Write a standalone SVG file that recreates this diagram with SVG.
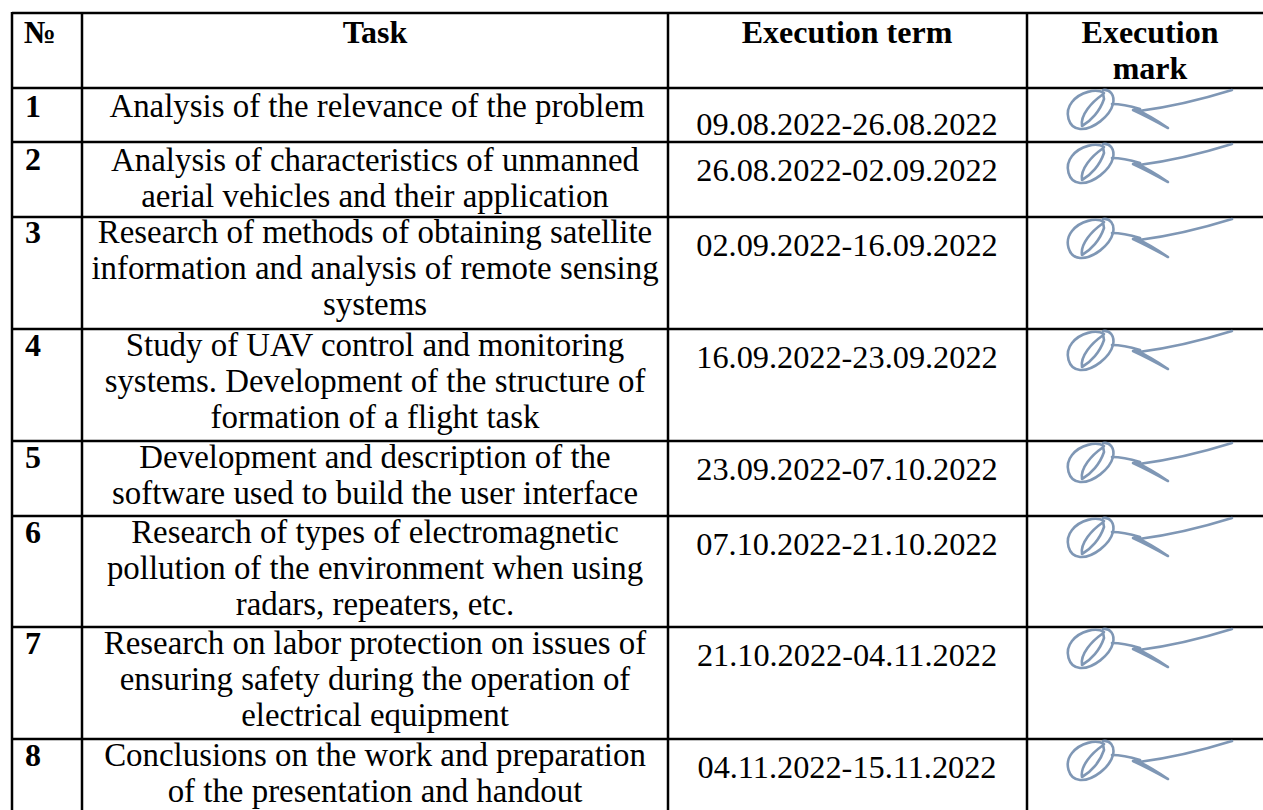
<svg xmlns="http://www.w3.org/2000/svg" width="1263" height="810" viewBox="0 0 1263 810" font-family="'Liberation Serif', 'Times New Roman', Tinos, 'DejaVu Serif', serif">
<style>
text{font-family:'Liberation Serif','Times New Roman',Tinos,'DejaVu Serif',serif;font-size:32px;fill:#000}
.b{font-weight:bold}
.c{text-anchor:middle}
.t{font-size:32.9px}
.d{font-size:32.3px}
.grid line{stroke:#000;stroke-width:2.5}
.sig path{fill:none;stroke:#7f97b5;stroke-width:2.6;stroke-linecap:round;stroke-linejoin:round}
</style>
<defs>
<g id="sign" class="sig">
<path d="M1104,93 C1096,88 1080,92 1072,102 C1064,112 1068,128 1080,129 C1093,130 1110,116 1113,104 C1115,95 1110,89 1103,90"/>
<path d="M1102,95 C1092,102 1080,115 1082,126 C1091,121 1100,111 1104,99 L1103,93"/>
<path d="M1112,104 C1121,104 1130,106 1140,109 L1133,110 C1146,116 1159,123 1168,128 C1156,120 1146,114 1139,111 C1170,107 1200,100 1232,90"/>
</g>
</defs>
<rect width="1263" height="810" fill="#fff"/>
<g id="grid" class="grid">
<line x1="12" y1="13" x2="1263" y2="13"/>
<line x1="12" y1="88" x2="1263" y2="88"/>
<line x1="12" y1="142" x2="1263" y2="142"/>
<line x1="12" y1="217" x2="1263" y2="217"/>
<line x1="12" y1="329" x2="1263" y2="329"/>
<line x1="12" y1="441" x2="1263" y2="441"/>
<line x1="12" y1="516" x2="1263" y2="516"/>
<line x1="12" y1="627" x2="1263" y2="627"/>
<line x1="12" y1="739" x2="1263" y2="739"/>
<line x1="12" y1="12" x2="12" y2="810"/>
<line x1="82" y1="12" x2="82" y2="810"/>
<line x1="668" y1="12" x2="668" y2="810"/>
<line x1="1027" y1="12" x2="1027" y2="810"/>
</g>
<g id="header">
<text class="b" x="24" y="43">№</text>
<text class="b c" x="375" y="43">Task</text>
<text class="b c" x="847" y="43">Execution term</text>
<text class="b c" x="1150" y="43">Execution</text>
<text class="b c" x="1150" y="79">mark</text>
</g>
<g id="row1">
<text class="b" x="25" y="117">1</text>
<text class="c t" x="377" y="117">Analysis of the relevance of the problem</text>
<text class="c d" x="847" y="135">09.08.2022-26.08.2022</text>
<use href="#sign"/>
</g>
<g id="row2">
<text class="b" x="25" y="170">2</text>
<text class="c t" x="375" y="171">Analysis of characteristics of unmanned</text>
<text class="c t" x="375" y="207">aerial vehicles and their application</text>
<text class="c d" x="847" y="181">26.08.2022-02.09.2022</text>
<use href="#sign" transform="translate(0,54)"/>
</g>
<g id="row3">
<text class="b" x="25" y="243">3</text>
<text class="c t" x="375" y="243">Research of methods of obtaining satellite</text>
<text class="c t" x="375" y="279">information and analysis of remote sensing</text>
<text class="c t" x="375" y="315">systems</text>
<text class="c d" x="847" y="256">02.09.2022-16.09.2022</text>
<use href="#sign" transform="translate(0,129)"/>
</g>
<g id="row4">
<text class="b" x="25" y="356">4</text>
<text class="c t" x="375" y="356">Study of UAV control and monitoring</text>
<text class="c t" x="375" y="392">systems. Development of the structure of</text>
<text class="c t" x="375" y="428">formation of a flight task</text>
<text class="c d" x="847" y="368">16.09.2022-23.09.2022</text>
<use href="#sign" transform="translate(0,241)"/>
</g>
<g id="row5">
<text class="b" x="25" y="468">5</text>
<text class="c t" x="375" y="468">Development and description of the</text>
<text class="c t" x="375" y="504">software used to build the user interface</text>
<text class="c d" x="847" y="480">23.09.2022-07.10.2022</text>
<use href="#sign" transform="translate(0,353)"/>
</g>
<g id="row6">
<text class="b" x="25" y="543">6</text>
<text class="c t" x="375" y="543">Research of types of electromagnetic</text>
<text class="c t" x="375" y="579">pollution of the environment when using</text>
<text class="c t" x="375" y="615">radars, repeaters, etc.</text>
<text class="c d" x="847" y="555">07.10.2022-21.10.2022</text>
<use href="#sign" transform="translate(0,428)"/>
</g>
<g id="row7">
<text class="b" x="25" y="654">7</text>
<text class="c t" x="375" y="654">Research on labor protection on issues of</text>
<text class="c t" x="375" y="690">ensuring safety during the operation of</text>
<text class="c t" x="375" y="726">electrical equipment</text>
<text class="c d" x="847" y="666">21.10.2022-04.11.2022</text>
<use href="#sign" transform="translate(0,539)"/>
</g>
<g id="row8">
<text class="b" x="25" y="766">8</text>
<text class="c t" x="375" y="766">Conclusions on the work and preparation</text>
<text class="c t" x="375" y="802">of the presentation and handout</text>
<text class="c d" x="847" y="778">04.11.2022-15.11.2022</text>
<use href="#sign" transform="translate(0,651)"/>
</g>
</svg>
